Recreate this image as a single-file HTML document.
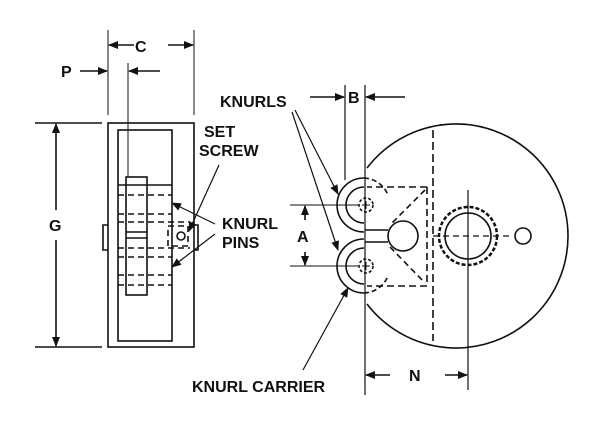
<!DOCTYPE html>
<html><head><style>body{margin:0;background:#fff}svg{display:block}text{font-family:"Liberation Sans",sans-serif;font-size:16px;font-weight:600;fill:#111}</style></head><body>
<svg width="600" height="429" viewBox="0 0 600 429" xmlns="http://www.w3.org/2000/svg">
<defs><marker id="a" markerWidth="10" markerHeight="8" refX="9" refY="4" orient="auto" markerUnits="userSpaceOnUse"><path d="M0,0 L10,4 L0,8 z" fill="#111"/></marker></defs>
<g stroke="#111" stroke-width="1.6" fill="none">
<rect x="108" y="123" width="86" height="224"/>
<rect x="118" y="130" width="54" height="211"/>
<rect x="126" y="177" width="21" height="118"/>
<path d="M108,225 H103 V250 H108 M194,225 H198 V250 H194"/>
<line x1="118" y1="185" x2="172" y2="185"/>
<g stroke-dasharray="6,4">
<line x1="118" y1="195" x2="172" y2="195"/><line x1="118" y1="214" x2="172" y2="214"/>
<line x1="118" y1="222" x2="190" y2="222"/><line x1="118" y1="248" x2="190" y2="248"/>
<line x1="118" y1="257" x2="172" y2="257"/><line x1="118" y1="275" x2="172" y2="275"/><line x1="118" y1="285" x2="172" y2="285"/>
<rect x="168" y="226" width="20" height="20"/>
</g>
<line x1="126" y1="232" x2="147" y2="232"/><line x1="126" y1="238" x2="147" y2="238"/>
<circle cx="181" cy="236" r="4"/>
<line x1="108" y1="30" x2="108" y2="115" stroke-width="1"/><line x1="194" y1="30" x2="194" y2="115" stroke-width="1"/>
<line x1="128" y1="63" x2="128" y2="177" stroke-width="1"/>
<line x1="134" y1="45" x2="109" y2="45" marker-end="url(#a)"/><line x1="168" y1="45" x2="193" y2="45" marker-end="url(#a)"/>
<line x1="80" y1="71" x2="107" y2="71" marker-end="url(#a)"/><line x1="160" y1="71" x2="129" y2="71" marker-end="url(#a)"/>
<line x1="35" y1="123" x2="102" y2="123"/><line x1="35" y1="347" x2="102" y2="347"/>
<line x1="56" y1="210" x2="56" y2="124" marker-end="url(#a)"/><line x1="56" y1="240" x2="56" y2="346" marker-end="url(#a)"/>
<line x1="219" y1="165" x2="189" y2="231" marker-end="url(#a)" stroke-width="1.2"/>
<line x1="215" y1="224" x2="172" y2="203" marker-end="url(#a)" stroke-width="1.2"/>
<line x1="215" y1="234" x2="172" y2="267" marker-end="url(#a)" stroke-width="1.2"/>
<path d="M367,168 A112,112 0 1 1 367,304"/>
<line x1="433" y1="130" x2="433" y2="341" stroke-dasharray="8,4"/>
<circle cx="468" cy="236" r="29" stroke-dasharray="4,2" stroke-width="2.5"/>
<circle cx="468" cy="236" r="23"/>
<line x1="433" y1="236" x2="512" y2="236" stroke-dasharray="6,4" stroke-width="1.2"/>
<line x1="468" y1="190" x2="468" y2="390" stroke-width="1.2"/>
<circle cx="523" cy="236" r="8"/>
<path d="M427,187 H367 M427,187 V286 H367" stroke-dasharray="7,4"/>
<path d="M425,190 L390,225 M390,247 L425,283" stroke-dasharray="6,4"/>
<circle cx="403" cy="236" r="15"/>
<path d="M364,178 A27,27 0 0 0 364,232 M364,187 A18,18 0 0 0 364,223"/>
<path d="M364,239 A27,27 0 0 0 364,293 M364,248 A18,18 0 0 0 364,284"/>
<path d="M364,178 A27,27 0 0 1 388,195 M364,293 A27,27 0 0 0 388,276" stroke-dasharray="5,3"/>
<circle cx="366" cy="205" r="7" stroke-dasharray="3,2"/><circle cx="366" cy="266" r="7" stroke-dasharray="3,2"/>
<path d="M362,205 H370 M366,201 V209 M362,266 H370 M366,262 V270" stroke-width="1"/>
<path d="M365,230 H388 M365,242 H388" />
<line x1="365" y1="85" x2="365" y2="395" stroke-width="1.2"/>
<line x1="345" y1="85" x2="345" y2="180" stroke-width="1.2"/>
<line x1="310" y1="97" x2="344" y2="97" marker-end="url(#a)"/><line x1="405" y1="97" x2="366" y2="97" marker-end="url(#a)"/>
<line x1="290" y1="205" x2="358" y2="205" stroke-width="1"/><line x1="290" y1="266" x2="358" y2="266" stroke-width="1"/>
<line x1="305" y1="220" x2="305" y2="206" marker-end="url(#a)"/><line x1="305" y1="252" x2="305" y2="265" marker-end="url(#a)"/>
<line x1="390" y1="375" x2="366" y2="375" marker-end="url(#a)"/><line x1="445" y1="375" x2="467" y2="375" marker-end="url(#a)"/>
<line x1="295" y1="110" x2="338" y2="194" marker-end="url(#a)" stroke-width="1.2"/>
<line x1="292" y1="112" x2="338" y2="250" marker-end="url(#a)" stroke-width="1.2"/>
<line x1="303" y1="370" x2="348" y2="288" marker-end="url(#a)" stroke-width="1.2"/>
</g>
<text x="135" y="52">C</text>
<text x="61" y="77">P</text>
<text x="49" y="231">G</text>
<text x="204" y="137">SET</text>
<text x="199" y="156">SCREW</text>
<text x="222" y="229">KNURL</text>
<text x="222" y="248">PINS</text>
<text x="220" y="107">KNURLS</text>
<text x="348" y="103">B</text>
<text x="297" y="242">A</text>
<text x="192" y="392">KNURL CARRIER</text>
<text x="409" y="381">N</text>
</svg>
</body></html>
